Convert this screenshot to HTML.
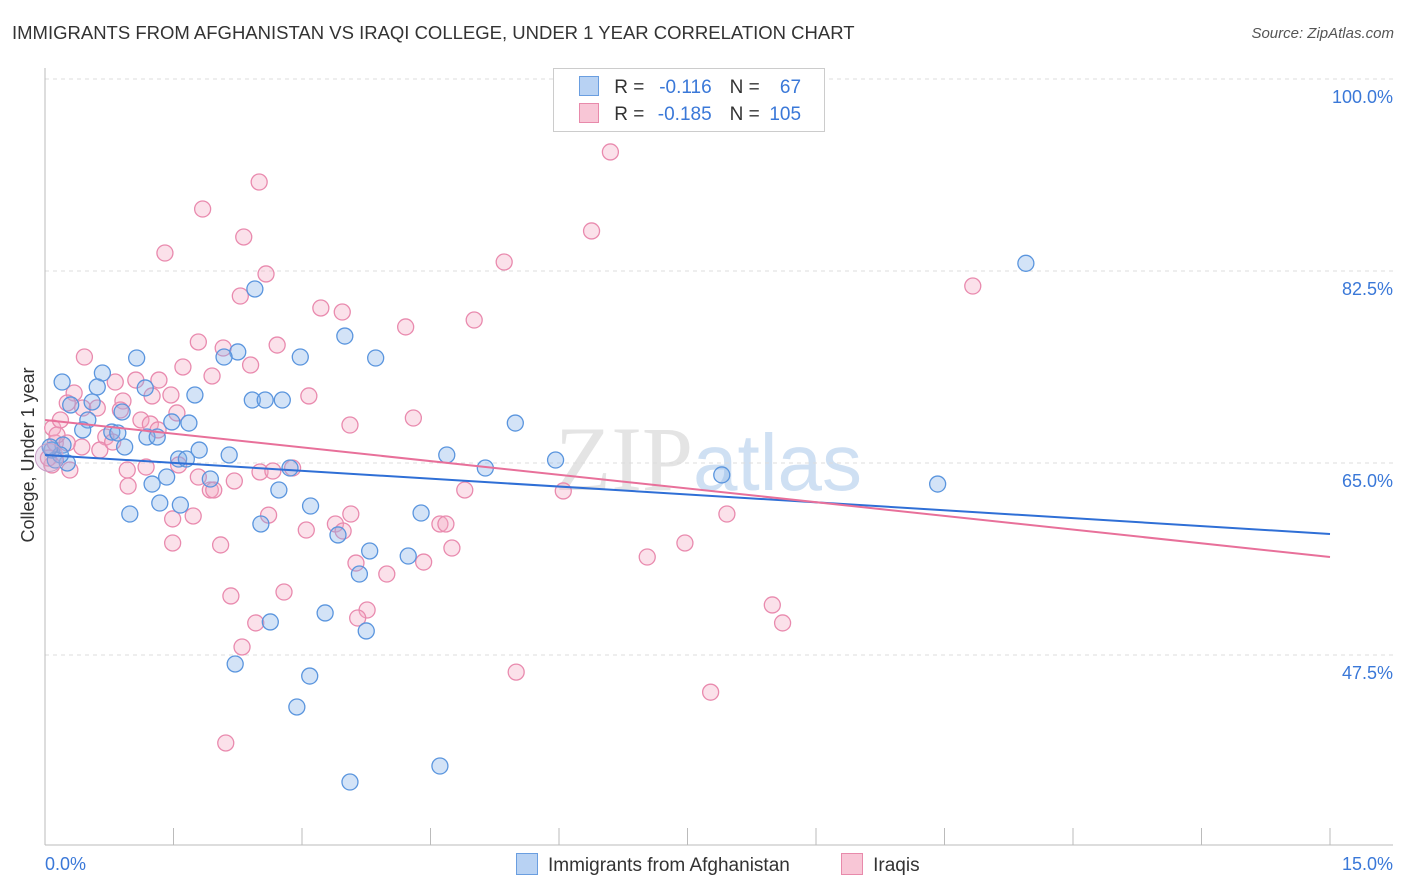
<!DOCTYPE html>
<html><head><meta charset="utf-8">
<style>
body{margin:0;background:#fff;font-family:"Liberation Sans",sans-serif;}
#wrap{position:relative;width:1406px;height:892px;overflow:hidden;}
.t{position:absolute;white-space:nowrap;}
</style></head>
<body>
<div id="wrap">
<div class="t" style="left:12px;top:22px;font-size:18.5px;color:#333;">IMMIGRANTS FROM AFGHANISTAN VS IRAQI COLLEGE, UNDER 1 YEAR CORRELATION CHART</div>
<div class="t" style="right:12px;top:25px;font-size:15px;color:#555;font-style:italic;">Source: ZipAtlas.com</div>
<svg id="chart" width="1406" height="892" style="position:absolute;left:0;top:0"></svg>
</div>
<script>
const blueX=[11.45,2.45,3.50,1.07,2.25,2.98,3.86,2.09,0.20,0.67,0.61,1.75,2.42,2.57,2.77,1.17,0.90,0.30,0.55,5.49,0.50,0.44,0.78,0.85,1.19,1.31,1.68,1.48,0.93,0.21,0.26,0.08,4.69,5.96,5.14,1.56,1.65,2.15,1.80,2.86,2.73,1.42,1.25,1.93,7.90,10.42,1.34,1.58,3.10,0.99,4.39,2.52,3.42,3.79,4.24,3.67,3.27,2.63,3.75,2.22,3.09,2.94,4.61,3.56,0.18,0.12,0.06];
const blueY=[83.2,80.86,76.57,74.57,75.12,74.66,74.57,74.66,72.38,73.20,71.93,71.20,70.74,70.74,70.74,71.84,69.65,70.29,70.56,68.64,68.92,68.01,67.82,67.73,67.37,67.37,68.64,68.74,66.46,66.64,65.0,66.18,65.73,65.27,64.54,65.36,65.36,65.73,66.18,64.54,62.54,63.72,63.08,63.54,63.91,63.08,61.35,61.17,61.08,60.35,60.44,59.44,58.44,56.98,56.52,54.88,51.33,50.51,49.69,46.68,45.58,42.76,37.38,35.92,65.73,65.27,66.46];
const pinkX=[6.60,2.50,1.84,2.32,6.38,1.40,5.36,2.58,2.28,10.83,3.22,3.47,5.01,4.21,1.79,2.71,2.08,2.40,1.61,0.46,1.95,1.06,0.82,1.33,3.08,0.34,1.47,1.25,0.26,0.44,0.61,0.91,0.88,4.30,1.54,1.12,1.23,3.56,1.32,0.71,0.09,0.12,0.43,0.64,0.26,0.79,0.29,0.96,1.18,1.56,2.51,2.66,2.89,1.79,2.21,1.93,1.97,0.97,4.90,6.05,7.96,3.57,3.39,3.48,2.61,3.05,4.61,4.68,1.49,1.73,1.49,2.05,7.47,4.75,3.63,4.42,7.03,3.99,2.79,2.17,3.76,3.65,2.46,8.49,8.61,2.30,5.50,7.77,2.11,0.18,0.14,0.08,0.04];
const pinkY=[93.35,90.61,88.15,85.60,86.15,84.14,83.32,82.23,80.22,81.13,79.13,78.76,78.03,77.40,76.03,75.75,75.48,73.93,73.75,74.66,72.93,72.56,72.38,72.56,71.11,71.38,71.20,71.11,70.47,70.01,70.01,70.65,69.83,69.10,69.56,68.92,68.55,68.46,68.01,67.37,68.19,66.82,66.46,66.18,66.82,66.91,64.36,64.36,64.63,64.82,64.18,64.27,64.54,63.72,63.36,62.54,62.54,62.90,62.54,62.45,60.35,60.35,59.44,58.80,60.25,58.89,59.44,59.44,59.90,60.17,57.71,57.53,57.71,57.25,55.88,55.97,56.43,54.88,53.24,52.88,51.60,50.87,50.42,52.06,50.42,48.23,45.94,44.11,39.48,68.92,67.55,64.82,65.45];
const blueTrend=[65.73,58.53];
const pinkTrend=[68.92,56.43];
const yTicks=[100,82.5,65,47.5];
const yTickLabels=["100.0%","82.5%","65.0%","47.5%"];

const svg=document.getElementById('chart');
const NS='http://www.w3.org/2000/svg';
const X0=45,X1=1330,Y100=79,PPU=10.971;
const sx=v=>X0+(v/15)*(X1-X0);
const sy=v=>Y100+(100-v)*PPU;
function mk(tag,attrs,parent){const e=document.createElementNS(NS,tag);for(const k in attrs)e.setAttribute(k,attrs[k]);(parent||svg).appendChild(e);return e;}

const wm=mk('text',{x:555,y:490,'font-size':92,'font-family':'Liberation Serif, serif',fill:'#e4e4e4'});


wm.innerHTML='ZIP<tspan fill="#cfe0f3" font-family="Liberation Sans, sans-serif" font-size="80">atlas</tspan>';

yTicks.forEach((v,i)=>{
  const g=mk('line',{x1:X0,x2:1393,y1:sy(v),y2:sy(v),stroke:'#dcdcdc','stroke-dasharray':'4,4'});
  
  
  const t=mk('text',{x:1393,y:sy(v)+24,'text-anchor':'end','font-size':18,fill:'#3a78d8'});
  t.textContent=yTickLabels[i];
  
  
});
const ya=mk('line',{x1:X0,x2:X0,y1:68,y2:845,stroke:'#bbb'});


const xa=mk('line',{x1:X0,x2:1393,y1:845,y2:845,stroke:'#bbb'});


for(let i=1;i<=10;i++){
  const x=X0+i*(X1-X0)/10;
  const tk=mk('line',{x1:x,x2:x,y1:828,y2:845,stroke:'#bbb'});
  
  
}
const xl0=mk('text',{x:45,y:870,'font-size':18,fill:'#3a78d8'});xl0.textContent='0.0%';


const xl1=mk('text',{x:1393,y:870,'font-size':18,fill:'#3a78d8','text-anchor':'end'});xl1.textContent='15.0%';


const yt=mk('text',{x:0,y:0,'font-size':18,fill:'#333','text-anchor':'middle',transform:'translate(34,455) rotate(-90)'});
yt.textContent='College, Under 1 year';



function pts(xs,ys,fill,stroke,name){
  xs.forEach((x,i)=>{
    const c=mk('circle',{cx:sx(x),cy:sy(ys[i]),r:8,fill:fill,stroke:stroke,'stroke-width':1.3});
    
    
  });
}
pts(pinkX,pinkY,'rgba(244,170,196,0.35)','#e98aae','iraqi-point');
pts(blueX,blueY,'rgba(130,175,232,0.35)','#5a95de','afghanistan-point');
const big=mk('circle',{cx:sx(0.05),cy:sy(65.5),r:14,fill:'rgba(200,170,210,0.35)',stroke:'#c9a0c8'});



const bl=mk('line',{x1:sx(0),y1:sy(blueTrend[0]),x2:sx(15),y2:sy(blueTrend[1]),stroke:'#2f6fd6','stroke-width':2});


const pl=mk('line',{x1:sx(0),y1:sy(pinkTrend[0]),x2:sx(15),y2:sy(pinkTrend[1]),stroke:'#e8709a','stroke-width':2});


</script>

<div class="t" style="left:553px;top:68px;width:270px;height:62px;border:1px solid #ccc;background:#fff;font-size:19px;">
  <div style="position:absolute;left:25px;top:7px;">
    <span style="display:inline-block;width:18px;height:18px;background:#b8d2f3;border:1px solid #6a9ee0;vertical-align:-3px;"></span>
    <span style="margin-left:10px;color:#333;">R = </span><span style="color:#3a78d8;display:inline-block;width:62px;text-align:right;">-0.116</span><span style="color:#333;margin-left:18px;">N = </span><span style="color:#3a78d8;display:inline-block;width:36px;text-align:right;">67</span>
  </div>
  <div style="position:absolute;left:25px;top:34px;">
    <span style="display:inline-block;width:18px;height:18px;background:#f8c6d6;border:1px solid #e88aab;vertical-align:-3px;"></span>
    <span style="margin-left:10px;color:#333;">R = </span><span style="color:#3a78d8;display:inline-block;width:62px;text-align:right;">-0.185</span><span style="color:#333;margin-left:18px;">N = </span><span style="color:#3a78d8;display:inline-block;width:36px;text-align:right;">105</span>
  </div>
</div>

<div class="t" style="left:516px;top:853px;font-size:19px;color:#333;">
  <span><span style="display:inline-block;width:20px;height:20px;background:#b8d2f3;border:1px solid #6a9ee0;vertical-align:-4px;"></span><span style="margin-left:10px;">Immigrants from Afghanistan</span></span>
  <span style="margin-left:46px;"><span style="display:inline-block;width:20px;height:20px;background:#f8c6d6;border:1px solid #e88aab;vertical-align:-4px;"></span><span style="margin-left:10px;">Iraqis</span></span>
</div>
</body></html>
